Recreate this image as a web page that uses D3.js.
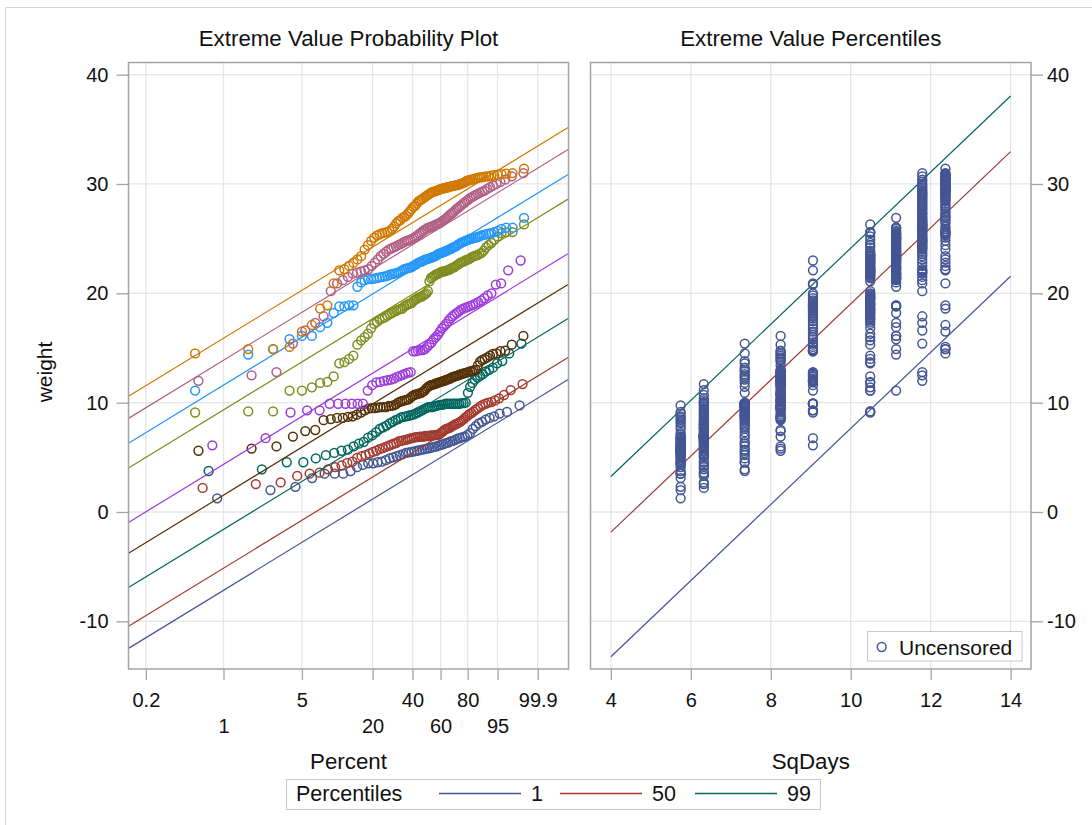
<!DOCTYPE html>
<html>
<head>
<meta charset="utf-8">
<script src="https://cdn.jsdelivr.net/npm/d3@7"></script>
<style>
  body { margin: 0; background: #fff; }
  svg { display: block; }
</style>
</head>
<body>
<div id="chart"></div>
<script>
// SqDays level of each group (one colour per group in the probability plot)
const sqDays = [5.745, 6.325, 7.348, 8.246, 9.055, 10.488, 11.136, 11.790, 12.369];

// weights, one array per SqDays group
const g1Weights = [1.25, 2.0, 2.3, 3.1, 3.5, 3.5, 3.5, 3.75, 4.1, 4.3,
    4.45, 4.45, 4.55, 4.6, 4.75, 4.9, 5.0, 5.1, 5.2, 5.3,
    5.4, 5.45, 5.5, 5.55, 5.6, 5.65, 5.7, 5.75, 5.8, 5.85,
    5.9, 5.95, 6.0, 6.1, 6.15, 6.2, 6.3, 6.35, 6.45, 6.5,
    6.6, 6.7, 6.75, 6.85, 6.9, 7.05, 7.2, 7.6, 7.85, 8.1,
    8.25, 8.45, 8.6, 8.75, 9.0, 9.15, 9.75];
const g2Weights = [2.2, 2.55, 2.7, 3.3, 3.5, 3.6, 3.9, 4.1, 4.25, 4.5,
    4.6, 4.95, 5.1, 5.2, 5.35, 5.5, 5.6, 5.75, 5.85, 5.95,
    6.05, 6.15, 6.25, 6.3, 6.45, 6.5, 6.55, 6.6, 6.65, 6.7,
    6.75, 6.8, 6.85, 6.85, 6.9, 6.9, 6.9, 6.95, 6.95, 6.95,
    7.0, 7.0, 7.0, 7.05, 7.05, 7.1, 7.25, 7.35, 7.5, 7.6,
    7.65, 7.7, 7.8, 7.9, 8.0, 8.05, 8.15, 8.25, 8.35, 8.5,
    8.65, 8.8, 8.95, 9.05, 9.2, 9.35, 9.5, 9.65, 9.8, 9.9,
    10.0, 10.05, 10.2, 10.4, 10.7, 11.15, 11.7];
const g3Weights = [3.75, 3.9, 4.55, 4.55, 4.9, 5.2, 5.4, 5.6, 5.7, 6.0,
    6.25, 6.4, 6.8, 7.0, 7.3, 7.6, 7.75, 7.9, 8.1, 8.25,
    8.4, 8.5, 8.65, 8.7, 8.75, 8.8, 8.85, 8.9, 9.0, 9.1,
    9.2, 9.3, 9.4, 9.5, 9.6, 9.6, 9.6, 9.65, 9.7, 9.75,
    9.8, 9.8, 9.85, 9.9, 9.9, 9.9, 9.9, 9.9, 9.9, 9.9,
    9.9, 9.95, 9.95, 10.0, 10.9, 11.45, 11.8, 12.1, 12.3, 12.45,
    12.6, 12.85, 13.0, 13.2, 13.6, 13.8, 14.5, 15.4];
const g4Weights = [5.6, 5.8, 6.0, 6.9, 7.4, 7.5, 8.4, 8.5, 8.6, 8.6,
    8.7, 8.75, 8.9, 9.1, 9.3, 9.45, 9.5, 9.5, 9.55, 9.6,
    9.6, 9.6, 9.7, 9.7, 9.75, 9.85, 10.0, 10.1, 10.15, 10.2,
    10.25, 10.3, 10.45, 10.6, 10.7, 10.75, 10.8, 10.85, 10.9, 11.0,
    11.1, 11.3, 11.45, 11.55, 11.6, 11.65, 11.7, 11.75, 11.8, 11.85,
    11.9, 11.95, 12.0, 12.05, 12.1, 12.15, 12.2, 12.3, 12.35, 12.4,
    12.45, 12.5, 12.55, 12.6, 12.65, 12.7, 12.75, 12.8, 12.85, 12.9,
    12.95, 13.0, 13.4, 13.75, 13.9, 14.0, 14.15, 14.3, 14.45, 14.5,
    14.7, 14.75, 15.3, 16.1];
const g5Weights = [6.1, 6.75, 9.1, 9.3, 9.3, 9.9, 9.9, 9.9, 9.9, 9.9,
    9.9, 11.1, 11.6, 11.85, 11.9, 12.0, 12.05, 12.1, 12.2, 12.35,
    12.45, 12.55, 12.65, 12.75, 12.8, 14.7, 14.7, 14.75, 14.8, 14.8,
    14.9, 15.1, 15.3, 15.5, 15.8, 16.0, 16.2, 16.5, 16.8, 17.0,
    17.2, 17.45, 17.7, 17.9, 18.05, 18.2, 18.35, 18.5, 18.6, 18.7,
    18.75, 18.85, 18.95, 19.05, 19.2, 19.35, 19.55, 19.8, 20.0, 20.8,
    20.9, 22.1, 23.0];
const g6Weights = [9.1, 9.2, 9.2, 11.1, 11.1, 11.4, 11.8, 11.9, 12.4, 13.6,
    13.7, 14.0, 14.3, 15.3, 15.7, 16.0, 16.3, 16.8, 17.2, 17.4,
    17.6, 17.7, 17.8, 17.95, 18.1, 18.2, 18.3, 18.4, 18.5, 18.55,
    18.6, 18.8, 18.9, 19.0, 19.05, 19.1, 19.3, 19.4, 19.5, 19.6,
    19.65, 19.7, 19.8, 19.9, 20.0, 20.2, 21.1, 21.4, 21.5, 21.6,
    21.7, 21.75, 21.8, 21.9, 21.95, 22.0, 22.0, 22.05, 22.1, 22.15,
    22.2, 22.3, 22.35, 22.4, 22.5, 22.6, 22.7, 22.8, 22.85, 22.9,
    23.0, 23.05, 23.1, 23.2, 23.3, 23.4, 23.45, 23.5, 23.6, 23.7,
    23.9, 24.2, 24.4, 24.6, 24.9, 25.2, 25.5, 25.6, 25.6, 26.3];
const g7Weights = [11.1, 14.4, 14.9, 15.8, 16.1, 16.1, 16.9, 17.3, 18.2, 18.8,
    18.8, 18.9, 18.9, 20.6, 21.0, 21.2, 21.3, 21.3, 21.35, 21.4,
    21.45, 21.5, 21.55, 21.6, 21.7, 21.75, 21.8, 21.85, 21.9, 22.0,
    22.1, 22.2, 22.25, 22.3, 22.35, 22.4, 22.5, 22.6, 22.7, 22.8,
    22.85, 22.9, 23.0, 23.05, 23.1, 23.15, 23.2, 23.25, 23.3, 23.35,
    23.4, 23.5, 23.6, 23.65, 23.7, 23.75, 23.8, 23.85, 23.9, 24.0,
    24.05, 24.1, 24.2, 24.25, 24.3, 24.4, 24.5, 24.6, 24.65, 24.7,
    24.8, 24.85, 24.9, 25.0, 25.0, 25.05, 25.1, 25.15, 25.2, 25.3,
    25.35, 25.4, 25.45, 25.5, 25.6, 25.7, 25.9, 26.0, 26.0, 26.9];
const g8Weights = [12.0, 12.5, 12.8, 15.4, 16.6, 17.3, 17.9, 20.2, 20.9, 21.2,
    21.5, 21.8, 21.9, 22.0, 22.1, 22.2, 22.5, 22.8, 23.1, 23.4,
    23.6, 23.8, 24.0, 24.1, 24.2, 24.3, 24.4, 24.5, 24.6, 24.7,
    24.8, 24.85, 24.9, 25.0, 25.1, 25.2, 25.3, 25.45, 25.55, 25.7,
    25.8, 25.9, 26.0, 26.0, 26.1, 26.15, 26.2, 26.3, 26.35, 26.4,
    26.5, 26.6, 26.7, 26.8, 26.9, 27.05, 27.2, 27.3, 27.4, 27.55,
    27.7, 27.8, 27.95, 28.05, 28.2, 28.3, 28.45, 28.55, 28.7, 28.8,
    28.9, 29.0, 29.1, 29.2, 29.3, 29.4, 29.55, 29.7, 29.85, 30.0,
    30.2, 30.4, 30.7, 31.0];
const g9Weights = [14.5, 14.9, 14.9, 15.1, 16.5, 17.1, 18.6, 18.9, 20.9, 22.1,
    22.2, 22.5, 22.8, 23.1, 23.4, 24.0, 24.4, 24.8, 25.1, 25.3,
    25.4, 25.5, 25.55, 25.6, 25.7, 25.9, 26.1, 26.4, 26.6, 26.7,
    26.9, 27.0, 27.1, 27.3, 27.5, 27.7, 27.9, 28.0, 28.2, 28.4,
    28.5, 28.6, 28.7, 28.8, 28.9, 29.0, 29.1, 29.2, 29.25, 29.3,
    29.35, 29.4, 29.45, 29.5, 29.55, 29.6, 29.6, 29.65, 29.7, 29.7,
    29.75, 29.8, 29.8, 29.85, 29.9, 29.9, 29.95, 30.0, 30.05, 30.1,
    30.2, 30.3, 30.3, 30.4, 30.4, 30.45, 30.5, 30.55, 30.6, 30.6,
    30.65, 30.7, 30.7, 30.75, 30.8, 30.85, 30.9, 30.95, 31.0, 31.4];

const percentTicks = [0.2, 1, 5, 20, 40, 60, 80, 95, 99.9];
const weightTicks = [-10, 0, 10, 20, 30, 40];
const sqDaysTicks = [4, 6, 8, 10, 12, 14];
const percentileLevels = [1, 50, 99];

// fitted extreme value regression: location = intercept + slope*SqDays
const intercept = -14.78, slope = 3.48, evScale = 2.69;

const weightGroups = [g1Weights, g2Weights, g3Weights, g4Weights, g5Weights,
    g6Weights, g7Weights, g8Weights, g9Weights];

const groupColors = ["#445694", "#A23A2E", "#01665E", "#543005", "#9D3CDB",
    "#7F8E1F", "#2597FA", "#B26084", "#D17800"];
const percentileColors = ["#445694", "#A23A2E", "#01665E"];

const font = "'Liberation Sans', Arial, sans-serif";
const axisColor = "#a0a5aa", gridColor = "#e6e6e6", textColor = "#111";

var width = 1092, height = 825,
    plotTop = 62.5, plotBottom = 669,
    left = {x0: 128.5, x1: 568.5},
    right = {x0: 590.5, x1: 1031},
    markR = 4.4, markW = 1.5;

// extreme value (smallest) probability scale
const ev = p => Math.log(-Math.log(1 - p / 100));

var svg = d3.select("#chart")
    .append("svg")
    .attr("width", width)
    .attr("height", height)
    .style("font-family", font);

// outer border of the graph
svg.append("path")
    .attr("d", `M5.5,${height}V7.5H${width}`)
    .attr("fill", "none")
    .attr("stroke", "#d4d4d4");

var y = d3.scaleLinear().domain([-14.36, 41.11]).range([plotBottom, plotTop]);
var xProb = d3.scaleLinear().domain([-6.575, 2.572]).range([left.x0, left.x1]);
var xDays = d3.scaleLinear().domain([3.49, 14.51]).range([right.x0, right.x1]);

/* grid lines */
var grid = svg.append("g").attr("stroke", gridColor).attr("stroke-width", 1.3);
[left, right].forEach(p => {
    grid.selectAll(null).data(weightTicks).enter().append("line")
        .attr("x1", p.x0).attr("x2", p.x1)
        .attr("y1", d => y(d)).attr("y2", d => y(d));
});
grid.selectAll(null).data(percentTicks).enter().append("line")
    .attr("x1", d => xProb(ev(d))).attr("x2", d => xProb(ev(d)))
    .attr("y1", plotTop).attr("y2", plotBottom);
grid.selectAll(null).data(sqDaysTicks).enter().append("line")
    .attr("x1", d => xDays(d)).attr("x2", d => xDays(d))
    .attr("y1", plotTop).attr("y2", plotBottom);

/* left panel: fitted lines and probability points */
var zEnds = xProb.domain();
var line = d3.line();

var groups = svg.selectAll(".group")
    .data(weightGroups.map((w, i) => ({w: d3.sort(w), x: sqDays[i], color: groupColors[i]})))
    .enter().append("g")
    .attr("class", "group");

groups.append("path")
    .attr("fill", "none")
    .attr("stroke", d => d.color)
    .attr("stroke-width", 1.2)
    .attr("d", d => line(zEnds.map(z => [xProb(z), y(intercept + slope * d.x + evScale * z)])));

groups.selectAll("circle")
    .data(d => d.w.map((v, i) => ({v: v, p: (i + 0.5) / d.w.length * 100, color: d.color})))
    .enter().append("circle")
    .attr("cx", d => xProb(ev(d.p)))
    .attr("cy", d => y(d.v))
    .attr("r", markR)
    .attr("fill", "none")
    .attr("stroke", d => d.color)
    .attr("stroke-width", markW);

/* right panel: percentile lines and data */
svg.selectAll(".pctline")
    .data(percentileLevels)
    .enter().append("path")
    .attr("class", "pctline")
    .attr("fill", "none")
    .attr("stroke", (d, i) => percentileColors[i])
    .attr("stroke-width", 1.2)
    .attr("d", d => line(d3.extent(sqDaysTicks).map(x => [xDays(x), y(intercept + slope * x + evScale * ev(d))])));

var rightPts = [];
weightGroups.forEach((w, i) => w.forEach(v => rightPts.push({x: sqDays[i], v: v})));
svg.append("g").selectAll("circle")
    .data(rightPts)
    .enter().append("circle")
    .attr("cx", d => xDays(d.x))
    .attr("cy", d => y(d.v))
    .attr("r", markR)
    .attr("fill", "none")
    .attr("stroke", groupColors[0])
    .attr("stroke-width", markW);

/* frames */
[left, right].forEach(p => {
    svg.append("rect")
        .attr("x", p.x0).attr("y", plotTop)
        .attr("width", p.x1 - p.x0).attr("height", plotBottom - plotTop)
        .attr("fill", "none")
        .attr("stroke", axisColor)
        .attr("stroke-width", 1.5);
});

/* axes */
function styleAxis(g) {
    g.attr("font-family", font).attr("font-size", 20);
    g.select(".domain").remove();
    g.selectAll(".tick line").attr("stroke", axisColor).attr("stroke-width", 1.3);
    g.selectAll(".tick text").attr("fill", textColor);
}

svg.append("g")
    .attr("transform", `translate(${left.x0},0)`)
    .call(d3.axisLeft(y).tickValues(weightTicks).tickFormat(d => String(d)).tickSize(12).tickPadding(8))
    .call(styleAxis);

svg.append("g")
    .attr("transform", `translate(${right.x1},0)`)
    .call(d3.axisRight(y).tickValues(weightTicks).tickFormat(d => String(d)).tickSize(12).tickPadding(4))
    .call(styleAxis);

svg.append("g")
    .attr("transform", `translate(0,${plotBottom})`)
    .call(d3.axisBottom(xProb).tickValues(percentTicks.map(ev))
        .tickFormat((d, i) => percentTicks[i]).tickSize(11).tickPadding(12.5))
    .call(styleAxis)
    .selectAll(".tick text")
    .attr("dy", (d, i) => i % 2 ? "2.01em" : "0.71em");

svg.append("g")
    .attr("transform", `translate(0,${plotBottom})`)
    .call(d3.axisBottom(xDays).tickValues(sqDaysTicks).tickSize(11).tickPadding(12.5))
    .call(styleAxis);

/* titles and labels */
var texts = [
    {t: "Extreme Value Probability Plot", x: (left.x0 + left.x1) / 2, y: 46},
    {t: "Extreme Value Percentiles", x: (right.x0 + right.x1) / 2, y: 46},
    {t: "Percent", x: (left.x0 + left.x1) / 2, y: 769},
    {t: "SqDays", x: (right.x0 + right.x1) / 2, y: 769}
];
svg.selectAll(".label")
    .data(texts)
    .enter().append("text")
    .attr("class", "label")
    .attr("x", d => d.x).attr("y", d => d.y)
    .attr("text-anchor", "middle")
    .attr("font-size", 22.3)
    .attr("fill", textColor)
    .text(d => d.t);

svg.append("text")
    .attr("transform", "translate(52,372) rotate(-90)")
    .attr("text-anchor", "middle")
    .attr("font-size", 21)
    .attr("fill", textColor)
    .text("weight");

/* inset legend */
var inset = svg.append("g");
inset.append("rect")
    .attr("x", 867.5).attr("y", 631.5).attr("width", 154.5).attr("height", 29.5)
    .attr("fill", "#fff").attr("stroke", "#c8c8c8");
inset.append("circle")
    .attr("cx", 881.7).attr("cy", 647).attr("r", markR)
    .attr("fill", "none").attr("stroke", groupColors[0]).attr("stroke-width", markW);
inset.append("text")
    .attr("x", 899).attr("y", 654.5)
    .attr("font-size", 21).attr("fill", textColor)
    .text("Uncensored");

/* percentiles legend */
var legend = svg.append("g");
legend.append("rect")
    .attr("x", 286.5).attr("y", 779.5).attr("width", 534).attr("height", 30)
    .attr("fill", "#fff").attr("stroke", "#c8c8c8");
legend.append("text")
    .attr("x", 296).attr("y", 801)
    .attr("font-size", 21.5).attr("fill", textColor)
    .text("Percentiles");

var legendX = [439, 560, 695];
var item = legend.selectAll(".item")
    .data(percentileLevels)
    .enter().append("g")
    .attr("class", "item")
    .attr("transform", (d, i) => `translate(${legendX[i]},793.5)`);
item.append("line")
    .attr("x1", 0).attr("x2", 82)
    .attr("stroke", (d, i) => percentileColors[i])
    .attr("stroke-width", 1.6);
item.append("text")
    .attr("x", 92).attr("y", 7.5)
    .attr("font-size", 21.5).attr("fill", textColor)
    .text(d => d);
</script>
</body>
</html>
